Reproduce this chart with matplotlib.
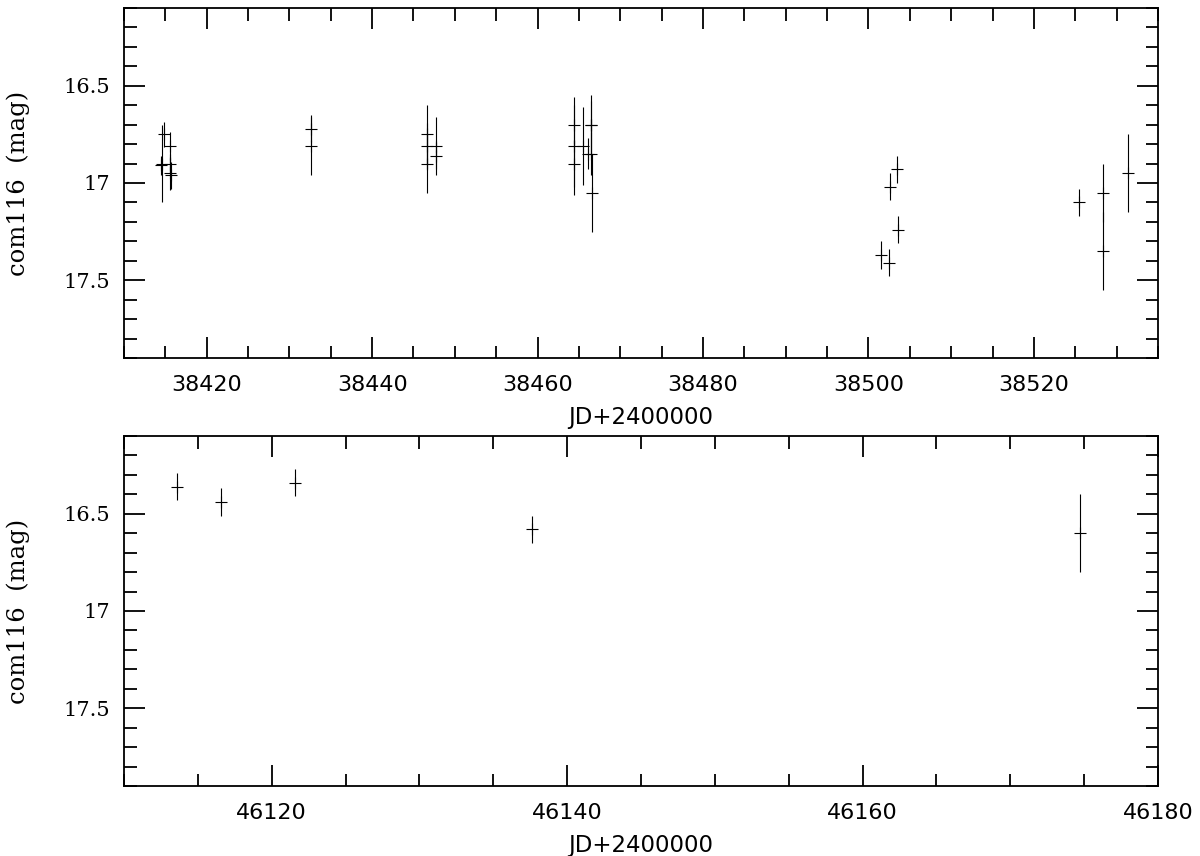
"""
Curva de luz de com116 en dos temporadas (JD+2400000)
"""
import matplotlib
matplotlib.use('Agg')
import matplotlib.pyplot as plt
from matplotlib.ticker import MultipleLocator

# Temporada 1
jd_1 = [38414.6, 38414.8, 38414.5, 38415.6, 38415.6, 38415.6, 38415.7,
        38432.6, 38432.6,
        38446.6, 38446.6, 38446.6, 38447.7, 38447.7,
        38464.4, 38464.4, 38464.4, 38465.5, 38466.1, 38466.5, 38466.4, 38466.5, 38466.6,
        38501.5, 38502.5, 38502.6, 38503.5, 38503.6,
        38525.4, 38528.4, 38528.4, 38531.4]
mag_1 = [16.90, 16.75, 16.91, 16.81, 16.90, 16.95, 16.96,
         16.72, 16.81,
         16.75, 16.81, 16.90, 16.81, 16.86,
         16.70, 16.81, 16.90, 16.81, 16.85, 16.70, 16.70, 16.85, 17.05,
         17.37, 17.41, 17.02, 16.93, 17.24,
         17.10, 17.05, 17.35, 16.95]
err_1 = [0.20, 0.065, 0.05, 0.07, 0.05, 0.085, 0.07,
         0.07, 0.15,
         0.15, 0.12, 0.15, 0.15, 0.07,
         0.10, 0.25, 0.12, 0.20, 0.08, 0.15, 0.12, 0.11, 0.20,
         0.07, 0.07, 0.07, 0.07, 0.07,
         0.07, 0.15, 0.20, 0.20]

# Temporada 2
jd_2 = [46113.6, 46116.6, 46121.6, 46137.6, 46174.7]
mag_2 = [16.36, 16.44, 16.34, 16.58, 16.60]
err_2 = [0.07, 0.07, 0.07, 0.07, 0.20]

ETIQUETA_X = 'JD+2400000'
ETIQUETA_Y = 'com116  (mag)'


def configurar_eje(ax, xmin, xmax, mayor, menor):
    """Ejes al estilo de las figuras astronómicas: ticks hacia dentro en los cuatro lados."""
    ax.set_xlim(xmin, xmax)
    ax.set_ylim(17.9, 16.1)
    ax.xaxis.set_major_locator(MultipleLocator(mayor))
    ax.xaxis.set_minor_locator(MultipleLocator(menor))
    ax.yaxis.set_major_locator(MultipleLocator(0.5))
    ax.yaxis.set_minor_locator(MultipleLocator(0.1))
    ax.tick_params(which='both', direction='in', top=True, right=True, width=1.3, color='black')
    ax.tick_params(which='major', length=15)
    ax.tick_params(which='minor', length=9)
    ax.tick_params(axis='x', pad=12, labelsize=16)
    ax.tick_params(axis='y', pad=10, labelsize=15)
    ax.yaxis.set_major_formatter(plt.FuncFormatter(lambda v, p: f'{v:g}'))
    ax.xaxis.set_major_formatter(plt.FuncFormatter(lambda v, p: f'{v:.0f}'))
    for s in ax.spines.values():
        s.set_linewidth(1.3)
    ax.set_xlabel(ETIQUETA_X, fontsize=16.5, labelpad=8)
    ax.set_ylabel(ETIQUETA_Y, fontsize=17.5, family='DejaVu Serif')
    ax.yaxis.set_label_coords(-0.091, 0.5)


def graficar(ax, x, y, e):
    ax.errorbar(x, y, yerr=e, fmt='+', color='black', ms=9, mew=0.8,
                elinewidth=0.8, capsize=0)


fig = plt.figure(figsize=(12, 8.56), dpi=100)
ax1 = fig.add_axes([0.1033, 0.5818, 0.8617, 0.4089])
ax2 = fig.add_axes([0.1033, 0.0818, 0.8617, 0.4089])

graficar(ax1, jd_1, mag_1, err_1)
configurar_eje(ax1, 38410, 38535, 20, 5)

graficar(ax2, jd_2, mag_2, err_2)
configurar_eje(ax2, 46110, 46180, 20, 5)

# numeros del eje y con serifa, como en el original
for ax in (ax1, ax2):
    for lab in ax.get_yticklabels():
        lab.set_family('DejaVu Serif')

fig.savefig('out.png', dpi=100)
